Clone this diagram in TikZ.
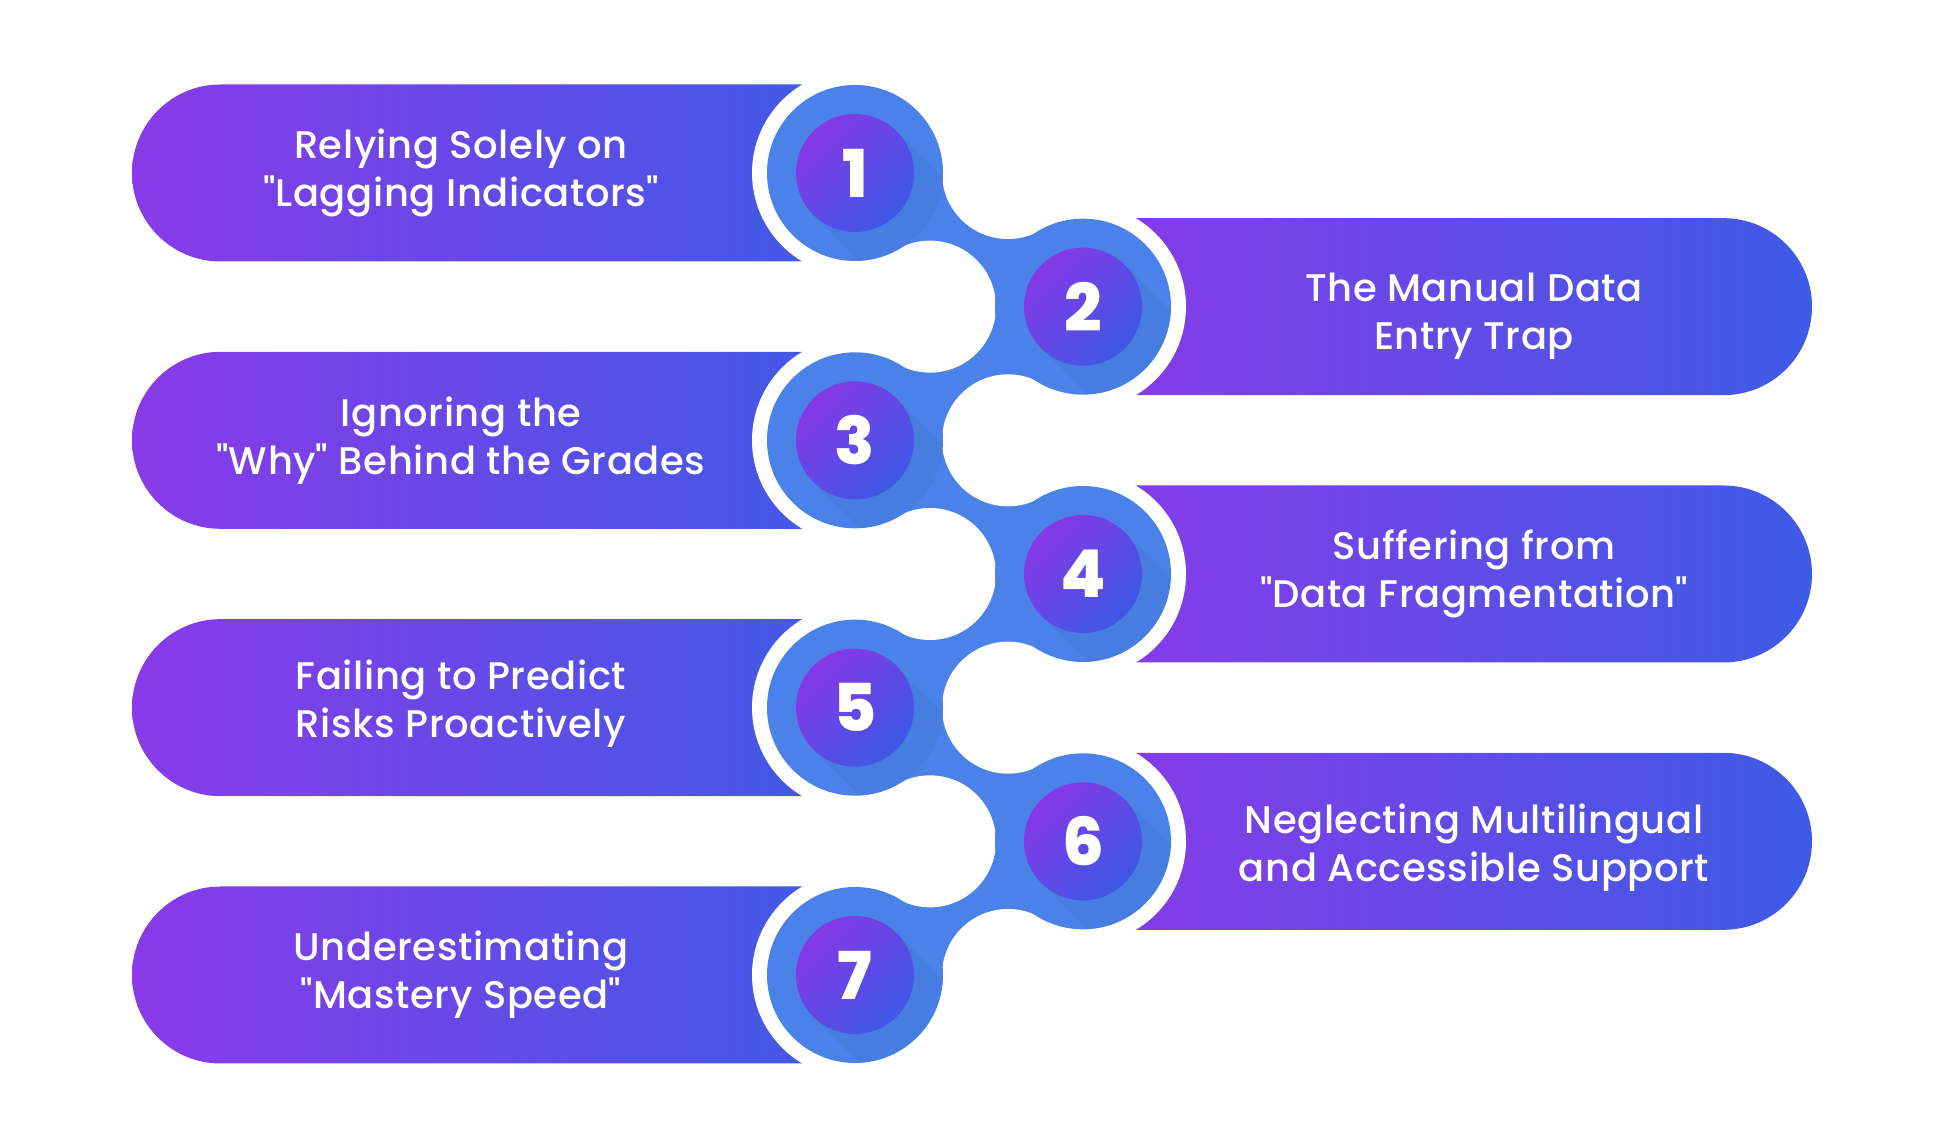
\documentclass[tikz,border=0pt]{standalone}
\usepackage{fontspec}
\setmainfont{Poppins Medium}[LetterSpace=1.5]
\newfontfamily\numfont{Poppins ExtraBold}
\newcommand\qmark{\XeTeXglyph\XeTeXcharglyph"22\relax}
\definecolor{pillL}{HTML}{8A3AE8}
\definecolor{pillR}{HTML}{3D5BE6}
\definecolor{ringblue}{HTML}{4A82EA}
\definecolor{innerA}{HTML}{8638E6}
\definecolor{innerB}{HTML}{3E58E6}
\tikzset{
  pilltext/.style={text=white, align=center, font=\fontsize{38.5}{48}\selectfont},
  numtext/.style={text=white, font=\numfont\fontsize{66}{66}\selectfont},
}
\begin{document}
\begin{tikzpicture}[x=1pt,y=1pt]
\useasboundingbox (0,0) rectangle (1939,1148);

\foreach \y in {975,707.67,440.33,173}
  \shade[left color=pillL, right color=pillR] (855,\y+88.5) -- (220.5,\y+88.5) arc[start angle=90,end angle=270,radius=88.5] -- (855,\y-88.5) -- cycle ;
\foreach \y in {841.33,574,306.67}
  \shade[left color=pillL, right color=pillR] (1083,\y+88.5) -- (1723.5,\y+88.5) arc[start angle=90,end angle=-90,radius=88.5] -- (1083,\y-88.5) -- cycle ;

\foreach \x/\y in {855/975, 1083/841.33, 855/707.67, 1083/574, 855/440.33, 1083/306.67, 855/173}
  \fill [white] (\x,\y) circle [radius=103] ;

\fill [ringblue] (855,975)    -- (1008,975)    -- (1083,841.33) -- (930,841.33) -- cycle ;
\fill [ringblue] (1083,841.33) -- (930,841.33) -- (855,707.67)  -- (1008,707.67) -- cycle ;
\fill [ringblue] (855,707.67) -- (1008,707.67) -- (1083,574)    -- (930,574) -- cycle ;
\fill [ringblue] (1083,574)   -- (930,574)     -- (855,440.33)  -- (1008,440.33) -- cycle ;
\fill [ringblue] (855,440.33) -- (1008,440.33) -- (1083,306.67) -- (930,306.67) -- cycle ;
\fill [ringblue] (1083,306.67) -- (930,306.67) -- (855,173)     -- (1008,173) -- cycle ;

\foreach \y in {975,707.67,440.33,173}
  \fill [white] (1008,\y) circle [radius=66] ;
\foreach \y in {841.33,574,306.67}
  \fill [white] (930,\y) circle [radius=66] ;

\foreach \n/\x/\y in {1/855/975, 2/1083/841.33, 3/855/707.67, 4/1083/574, 5/855/440.33, 6/1083/306.67, 7/855/173} {
  \fill [ringblue] (\x,\y) circle [radius=88] ;
  \begin{scope}
    \clip (\x,\y) circle [radius=88] ;
    \fill [black, opacity=0.04] (\x+41.7,\y+41.7) -- ++(200,-200) -- ++(-83.4,-83.4) -- (\x-41.7,\y-41.7) -- cycle ;
  \end{scope}
  \shade [top color=innerA, bottom color=innerB, shading angle=45] (\x,\y) circle [radius=59] ;
  \node [numtext] (n\n) at (\x,\y) {\n} ;
}

\node [pilltext] (p1) at (461,975)    {Relying Solely on\\\qmark Lagging Indicators\qmark} ;
\node [pilltext] (p2) at (1474,831.33) {The Manual Data\\Entry Trap} ;
\node [pilltext] (p3) at (461,707.67) {Ignoring the\\\qmark Why\qmark{} Behind the Grades} ;
\node [pilltext] (p4) at (1474,574)   {Suffering from\\\qmark Data Fragmentation\qmark} ;
\node [pilltext] (p5) at (461,444.33) {Failing to Predict\\Risks Proactively} ;
\node [pilltext] (p6) at (1474,300.67) {Neglecting Multilingual\\and Accessible Support} ;
\node [pilltext] (p7) at (461,173)    {Underestimating\\\qmark Mastery Speed\qmark} ;

\end{tikzpicture}
\end{document}
